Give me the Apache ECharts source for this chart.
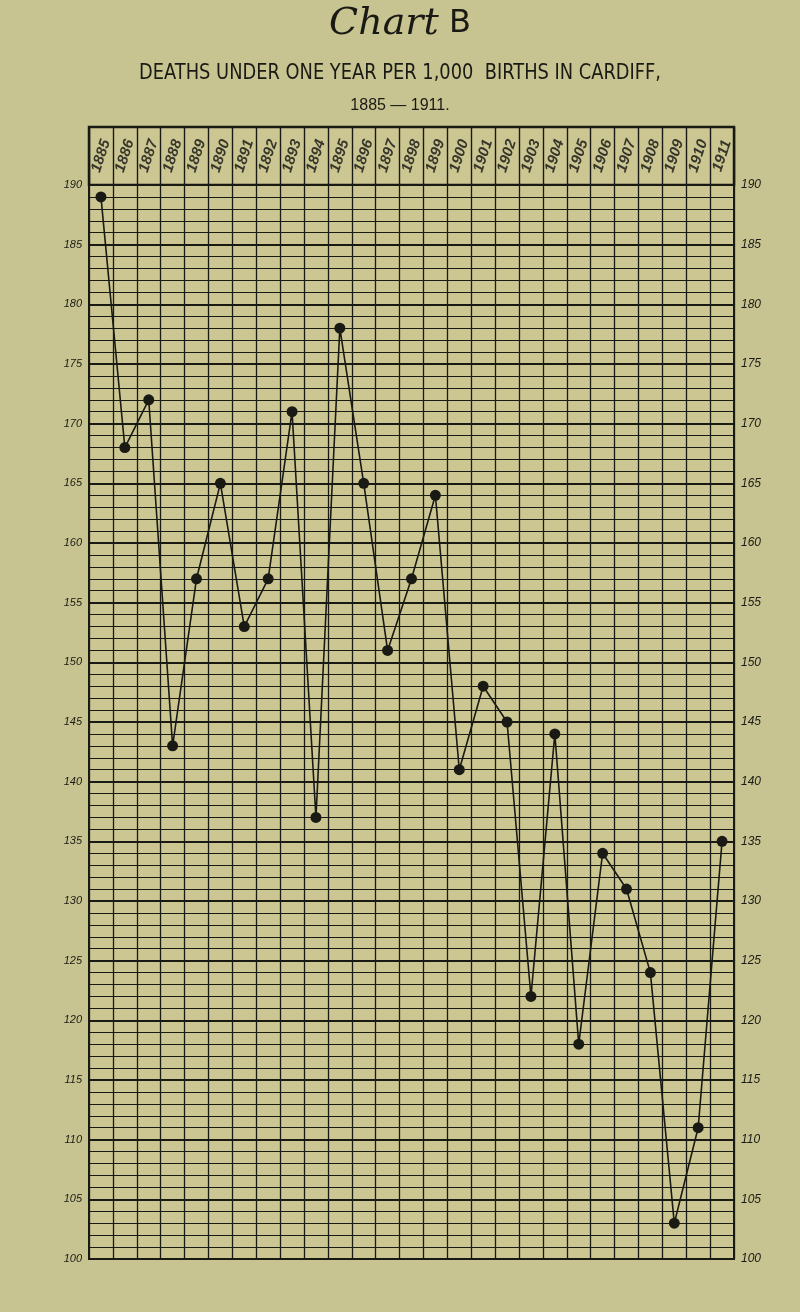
<!DOCTYPE html>
<html>
<head>
<meta charset="utf-8">
<script src="https://cdn.jsdelivr.net/npm/echarts@6/dist/echarts.min.js"></script>
<style>
  html, body { margin: 0; padding: 0; background: #c8c491; }
  #chart { width: 800px; height: 1312px; }
</style>
</head>
<body>
<div id="chart"></div>
<script>
// Years (category / header labels)
const years = ['1885','1886','1887','1888','1889','1890','1891','1892','1893','1894',
  '1895','1896','1897','1898','1899','1900','1901','1902','1903','1904',
  '1905','1906','1907','1908','1909','1910','1911'];
// Deaths under one year per 1,000 births, Cardiff
const deathRate = [189,168,172,143,157,165,153,157,171,137,
  178,165,151,157,164,141,148,145,122,144,
  118,134,131,124,103,111,135];
// Value-axis ticks
const yMin = 100;
const yMax = 190;
const yStep = 5;

const ink = '#1a1a15';
const labelFont = 'Liberation Sans';

const subtitleText = 'DEATHS UNDER ONE YEAR PER 1,000  BIRTHS IN CARDIFF,';
const subtitleFont = 'normal 22px "DejaVu Sans"';
// squeeze subtitle to the condensed width of the original lettering
const ctx = document.createElement('canvas').getContext('2d');
ctx.font = subtitleFont;
const subtitleScale = 522 / ctx.measureText(subtitleText).width;

const chart = echarts.init(document.getElementById('chart'), null, { renderer: 'canvas' });

const option = {
  backgroundColor: '#c8c491',
  animation: false,
  title: [
    {
      text: '{a|Chart}{b| B}',
      left: 'center',
      top: 0,
      textStyle: {
        fontWeight: 'normal',
        rich: {
          a: { fontFamily: 'DejaVu Serif', fontStyle: 'italic', fontWeight: 'normal', fontSize: 38, color: ink },
          b: { fontFamily: 'DejaVu Sans', fontWeight: 'normal', fontSize: 32, color: ink }
        }
      }
    },
    {
      text: '1885 — 1911.',
      left: 'center',
      top: 93,
      textStyle: { fontFamily: 'Liberation Sans', fontSize: 16, fontWeight: 'normal', color: ink }
    }
  ],
  graphic: [
    {
      type: 'text',
      x: 400, y: 62,
      scaleX: subtitleScale,
      style: { text: subtitleText, font: subtitleFont, fill: ink, textAlign: 'center', textVerticalAlign: 'top' }
    }
  ],
  grid: [
    { left: 89, width: 645, top: 127, height: 58, show: true, borderColor: ink, borderWidth: 2.5, backgroundColor: '#ccc792' },
    { left: 89, width: 645, top: 185, height: 1074, show: true, borderColor: ink, borderWidth: 2, backgroundColor: '#ccc792' }
  ],
  xAxis: [
    {
      type: 'category', gridIndex: 0, data: years, boundaryGap: true,
      axisLine: { show: false }, axisTick: { show: false }, axisLabel: { show: false },
      splitLine: { show: true, interval: 0, lineStyle: { color: ink, width: 1.4 } }
    },
    {
      type: 'category', gridIndex: 1, data: years, boundaryGap: true,
      axisLine: { show: false }, axisTick: { show: false }, axisLabel: { show: false },
      splitLine: { show: true, interval: 0, lineStyle: { color: ink, width: 1.3 } }
    }
  ],
  yAxis: [
    {
      type: 'value', gridIndex: 0, min: 0, max: 1, show: false, splitLine: { show: false }
    },
    {
      type: 'value', gridIndex: 1, position: 'left', min: yMin, max: yMax, interval: yStep,
      axisLine: { show: false }, axisTick: { show: false },
      axisLabel: { show: true, margin: 7, fontSize: 11, fontStyle: 'italic', fontFamily: labelFont, color: ink },
      splitLine: { show: true, lineStyle: { color: ink, width: 2 } },
      minorTick: { show: false, splitNumber: 5 },
      minorSplitLine: { show: true, lineStyle: { color: ink, width: 1.1 } }
    },
    {
      type: 'value', gridIndex: 1, position: 'right', min: yMin, max: yMax, interval: yStep,
      axisLine: { show: false }, axisTick: { show: false },
      axisLabel: { show: true, margin: 7, fontSize: 12, fontStyle: 'italic', fontFamily: labelFont, color: ink },
      splitLine: { show: false }
    }
  ],
  series: [
    {
      type: 'scatter',
      xAxisIndex: 0, yAxisIndex: 0,
      data: years.map(y => [y, 0.5]),
      symbolSize: 0,
      itemStyle: { color: ink },
      label: {
        show: true, position: 'inside', rotate: 72,
        formatter: p => p.value[0],
        fontSize: 15, fontStyle: 'italic', fontWeight: 'bold', fontFamily: labelFont, color: '#111',
        textBorderWidth: 0
      },
      silent: true
    },
    {
      type: 'line',
      xAxisIndex: 1, yAxisIndex: 1,
      data: deathRate,
      symbol: 'circle', symbolSize: 11,
      lineStyle: { color: ink, width: 1.6 },
      itemStyle: { color: ink },
      z: 5
    }
  ]
};
chart.setOption(option);
</script>
</body>
</html>
